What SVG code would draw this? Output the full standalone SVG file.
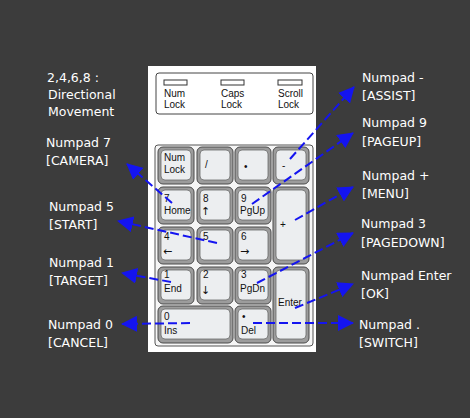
<svg xmlns="http://www.w3.org/2000/svg" width="470" height="418" viewBox="0 0 470 418">
<style>
.lbl{font-family:"DejaVu Sans",sans-serif;font-size:12.5px;fill:#ffffff}
.kt{font-family:"Liberation Sans",Arial,sans-serif;font-size:10px;fill:#111}
.ar{font-family:"DejaVu Sans",sans-serif;font-size:11px;fill:#111}
.ko{fill:#9c9c9c;stroke:#4a4a4a;stroke-width:1}
.ki{fill:#eceef0;stroke:#6a6a6a;stroke-width:0.8}
.led{fill:#fff;stroke:#333;stroke-width:1}
.con{fill:none;stroke:#1414f0;stroke-width:2;stroke-dasharray:9 4;marker-end:url(#ah)}
</style>
<defs>
<marker id="ah" viewBox="0 0 16 16" refX="15" refY="8" markerWidth="16" markerHeight="16" markerUnits="userSpaceOnUse" orient="auto">
<path d="M0,0 L16,8 L0,16 z" fill="#1414f0"/>
</marker>
</defs>
<rect width="470" height="418" fill="#3c3c3c"/>
<g id="keyboard">
<rect x="148" y="66" width="168" height="286" fill="#ffffff"/>
<rect x="156" y="73" width="157" height="41" rx="3" fill="#fff" stroke="#444" stroke-width="1"/>
<rect class="led" x="164" y="80" width="23" height="5"/>
<rect class="led" x="221" y="80" width="23" height="5"/>
<rect class="led" x="278" y="80" width="24" height="5"/>
<text class="kt" x="164" y="97">Num</text><text class="kt" x="164" y="108">Lock</text>
<text class="kt" x="221" y="97">Caps</text><text class="kt" x="221" y="108">Lock</text>
<text class="kt" x="278" y="97">Scroll</text><text class="kt" x="278" y="108">Lock</text>
<rect x="155" y="145" width="158" height="201" rx="3" fill="#f6f6f6" stroke="#555" stroke-width="1"/>
</g>
<g id="key-numlock"><rect class="ko" x="158" y="147" width="36" height="37" rx="5"/><rect class="ki" x="161" y="150" width="30" height="30" rx="4"/><text class="kt" x="164" y="161">Num</text><text class="kt" x="164" y="173">Lock</text></g>
<g id="key-slash"><rect class="ko" x="197" y="147" width="36" height="37" rx="5"/><rect class="ki" x="200" y="150" width="30" height="30" rx="4"/><text class="kt" x="205" y="168">/</text></g>
<g id="key-star"><rect class="ko" x="235" y="147" width="36" height="37" rx="5"/><rect class="ki" x="238" y="150" width="30" height="30" rx="4"/><text class="kt" x="244" y="170">•</text></g>
<g id="key-minus"><rect class="ko" x="273" y="147" width="36" height="37" rx="5"/><rect class="ki" x="276" y="150" width="30" height="30" rx="4"/><text class="kt" x="282" y="169">-</text></g>
<g id="key-7"><rect class="ko" x="158" y="187" width="36" height="37" rx="5"/><rect class="ki" x="161" y="190" width="30" height="30" rx="4"/><text class="kt" x="164" y="202">7</text><text class="kt" x="164" y="214">Home</text></g>
<g id="key-8"><rect class="ko" x="197" y="187" width="36" height="37" rx="5"/><rect class="ki" x="200" y="190" width="30" height="30" rx="4"/><text class="kt" x="203" y="202">8</text><text class="ar" x="201" y="215">↑</text></g>
<g id="key-9"><rect class="ko" x="235" y="187" width="36" height="37" rx="5"/><rect class="ki" x="238" y="190" width="30" height="30" rx="4"/><text class="kt" x="241" y="202">9</text><text class="kt" x="240" y="214">PgUp</text></g>
<g id="key-plus"><rect class="ko" x="273" y="187" width="36" height="77" rx="5"/><rect class="ki" x="276" y="190" width="30" height="70" rx="4"/><text class="kt" x="280" y="228">+</text></g>
<g id="key-4"><rect class="ko" x="158" y="227" width="36" height="37" rx="5"/><rect class="ki" x="161" y="230" width="30" height="30" rx="4"/><text class="kt" x="164" y="240">4</text><text class="ar" x="163" y="255">←</text></g>
<g id="key-5"><rect class="ko" x="197" y="227" width="36" height="37" rx="5"/><rect class="ki" x="200" y="230" width="30" height="30" rx="4"/><text class="kt" x="203" y="240">5</text></g>
<g id="key-6"><rect class="ko" x="235" y="227" width="36" height="37" rx="5"/><rect class="ki" x="238" y="230" width="30" height="30" rx="4"/><text class="kt" x="241" y="240">6</text><text class="ar" x="240" y="255">→</text></g>
<g id="key-1"><rect class="ko" x="158" y="267" width="36" height="37" rx="5"/><rect class="ki" x="161" y="270" width="30" height="30" rx="4"/><text class="kt" x="164" y="278">1</text><text class="kt" x="164" y="292">End</text></g>
<g id="key-2"><rect class="ko" x="197" y="267" width="36" height="37" rx="5"/><rect class="ki" x="200" y="270" width="30" height="30" rx="4"/><text class="kt" x="203" y="278">2</text><text class="ar" x="201" y="294">↓</text></g>
<g id="key-3"><rect class="ko" x="235" y="267" width="36" height="37" rx="5"/><rect class="ki" x="238" y="270" width="30" height="30" rx="4"/><text class="kt" x="241" y="278">3</text><text class="kt" x="240" y="292">PgDn</text></g>
<g id="key-enter"><rect class="ko" x="273" y="267" width="36" height="76" rx="5"/><rect class="ki" x="276" y="270" width="30" height="69" rx="4"/><text class="kt" x="278" y="306">Enter</text></g>
<g id="key-0"><rect class="ko" x="158" y="306" width="75" height="37" rx="5"/><rect class="ki" x="161" y="309" width="69" height="30" rx="4"/><text class="kt" x="164" y="320">0</text><text class="kt" x="164" y="334">Ins</text></g>
<g id="key-del"><rect class="ko" x="235" y="306" width="36" height="37" rx="5"/><rect class="ki" x="238" y="309" width="30" height="30" rx="4"/><text class="kt" x="242" y="320">•</text><text class="kt" x="241" y="334">Del</text></g>
<g id="label-directional"><text class="lbl" x="47" y="82">2,4,6,8 :</text><text class="lbl" x="48" y="99">Directional</text><text class="lbl" x="48" y="116">Movement</text></g>
<g id="label-7"><text class="lbl" x="46" y="147">Numpad 7</text><text class="lbl" x="46" y="165">[CAMERA]</text></g>
<g id="label-5"><text class="lbl" x="49" y="211">Numpad 5</text><text class="lbl" x="49" y="229">[START]</text></g>
<g id="label-1"><text class="lbl" x="49" y="267">Numpad 1</text><text class="lbl" x="49" y="285">[TARGET]</text></g>
<g id="label-0"><text class="lbl" x="48" y="329">Numpad 0</text><text class="lbl" x="48" y="347">[CANCEL]</text></g>
<g id="label-minus"><text class="lbl" x="362" y="82">Numpad -</text><text class="lbl" x="362" y="100">[ASSIST]</text></g>
<g id="label-9"><text class="lbl" x="362" y="127">Numpad 9</text><text class="lbl" x="362" y="146">[PAGEUP]</text></g>
<g id="label-plus"><text class="lbl" x="362" y="180">Numpad +</text><text class="lbl" x="362" y="198">[MENU]</text></g>
<g id="label-3"><text class="lbl" x="361" y="228">Numpad 3</text><text class="lbl" x="361" y="247">[PAGEDOWN]</text></g>
<g id="label-enter"><text class="lbl" x="361" y="280">Numpad Enter</text><text class="lbl" x="361" y="298">[OK]</text></g>
<g id="label-dot"><text class="lbl" x="359" y="329">Numpad .</text><text class="lbl" x="359" y="347">[SWITCH]</text></g>
<g id="connectors">
<line class="con" x1="172" y1="203" x2="127" y2="164"/>
<line class="con" x1="217" y1="243" x2="118" y2="221"/>
<line class="con" x1="171" y1="282" x2="122" y2="273"/>
<line class="con" x1="190" y1="323" x2="122" y2="324"/>
<line class="con" x1="290" y1="159" x2="354" y2="87"/>
<line class="con" x1="252" y1="204" x2="353" y2="133"/>
<line class="con" x1="295" y1="220" x2="353" y2="187"/>
<line class="con" x1="257" y1="283" x2="353" y2="233"/>
<line class="con" x1="295" y1="308" x2="353" y2="284"/>
<line class="con" x1="253" y1="323" x2="353" y2="323"/>
</g>
</svg>
